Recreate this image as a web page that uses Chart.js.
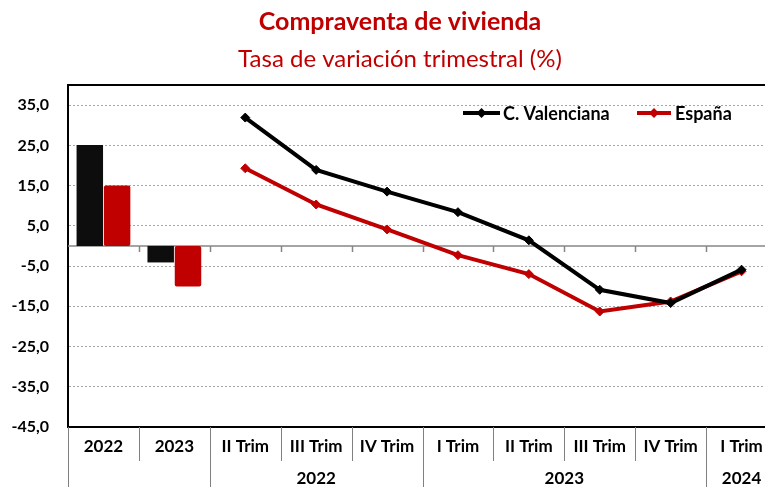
<!DOCTYPE html>
<html>
<head>
<meta charset="utf-8">
<script src="https://cdn.jsdelivr.net/npm/chart.js@4"></script>
<style>
  body { margin: 0; overflow: hidden; background: #fff; }
  #caja { width: 765px; height: 487px; overflow: hidden; }
</style>
</head>
<body>
<div id="caja"><canvas id="grafico" width="800" height="487"></canvas></div>
<script>
// categorias del eje x
const categorias = ['2022', '2023', 'II Trim', 'III Trim', 'IV Trim', 'I Trim', 'II Trim', 'III Trim', 'IV Trim', 'I Trim']
// segunda fila: [etiqueta, desde, hasta]
const grupos = [['2022', 2, 4], ['2023', 5, 8], ['2024', 9, 9]]

const cvAnual = [25.1, -4.1, null, null, null, null, null, null, null, null]
const espAnual = [15.0, -10.1, null, null, null, null, null, null, null, null]
const cvTrim = [null, null, 31.9, 18.9, 13.5, 8.4, 1.4, -10.9, -14.2, -5.9]
const espTrim = [null, null, 19.3, 10.3, 4.1, -2.3, -7.0, -16.3, -13.8, -6.3]

const ticksY = [-45, -35, -25, -15, -5, 5, 15, 25, 35, 40]

const negro = '#000000'
const rojo = '#C00000'
const fuente = 'Lato, "Open Sans", sans-serif'

const dibujo = {
  id: 'dibujo',
  beforeDatasetsDraw(chart) {
    const c = chart.ctx
    const area = chart.chartArea
    const x = chart.scales.x
    const y0 = chart.scales.y.getPixelForValue(0)
    const medio = (x.getPixelForValue(1) - x.getPixelForValue(0)) / 2
    c.save()
    c.strokeStyle = '#868686'
    c.lineWidth = 1.5
    c.beginPath()
    c.moveTo(area.left, y0)
    c.lineTo(area.right, y0)
    for (let i = 1; i < categorias.length; i++) {
      const px = Math.round(x.getPixelForValue(i) - medio) + 0.5
      c.moveTo(px, y0)
      c.lineTo(px, y0 + 6)
    }
    c.stroke()
    c.restore()
  },
  afterDraw(chart) {
    const c = chart.ctx
    const area = chart.chartArea
    const x = chart.scales.x
    const medio = (x.getPixelForValue(1) - x.getPixelForValue(0)) / 2
    c.save()
    // titulos
    c.textAlign = 'center'
    c.textBaseline = 'middle'
    c.fillStyle = rojo
    c.font = 'bold 25px ' + fuente
    c.fillText('Compraventa de vivienda', 400, 22)
    c.font = '24px ' + fuente
    c.fillText('Tasa de variación trimestral (%)', 400, 59)

    // borde superior
    c.strokeStyle = negro
    c.lineWidth = 2
    c.beginPath()
    c.moveTo(area.left - 1, area.top)
    c.lineTo(area.right, area.top)
    c.stroke()

    // etiquetas del eje x
    c.fillStyle = '#000'
    c.font = 'bold 17px ' + fuente
    categorias.forEach((t, i) => {
      c.fillText(t, x.getPixelForValue(i), area.bottom + 20)
    })
    grupos.forEach(g => {
      const cx = (x.getPixelForValue(g[1]) + x.getPixelForValue(g[2])) / 2
      c.fillText(g[0], cx, area.bottom + 52)
    })

    // separadores
    const cortes = [0, 2, 5, 9]
    c.strokeStyle = '#808080'
    c.lineWidth = 1
    c.beginPath()
    for (let i = 0; i < categorias.length; i++) {
      const px = Math.round(x.getPixelForValue(i) - medio) + 0.5
      c.moveTo(px, area.bottom)
      c.lineTo(px, cortes.includes(i) ? 487 : area.bottom + 34)
    }
    c.stroke()

    // leyenda
    const series = [[chart.data.datasets[2], 463, 500, 503], [chart.data.datasets[3], 637, 671, 675]]
    const yl = 113
    series.forEach(s => {
      const ds = s[0]
      c.strokeStyle = ds.borderColor
      c.lineWidth = 4
      c.beginPath()
      c.moveTo(s[1], yl)
      c.lineTo(s[2], yl)
      c.stroke()
      const mx = (s[1] + s[2]) / 2
      c.fillStyle = ds.borderColor
      c.beginPath()
      c.moveTo(mx, yl - 5)
      c.lineTo(mx + 5, yl)
      c.lineTo(mx, yl + 5)
      c.lineTo(mx - 5, yl)
      c.closePath()
      c.fill()
      c.fillStyle = '#000'
      c.textAlign = 'left'
      c.font = 'bold 18px ' + fuente
      c.fillText(ds.label, s[3], yl + 1)
    })
    c.restore()
  }
}

new Chart(document.getElementById('grafico'), {
  type: 'bar',
  data: {
    labels: categorias,
    datasets: [
      {
        label: 'C. Valenciana',
        data: cvAnual,
        backgroundColor: '#0D0D0D',
        categoryPercentage: 0.77,
        barPercentage: 0.97,
        order: 3
      },
      {
        label: 'España',
        data: espAnual,
        backgroundColor: rojo,
        borderRadius: 2,
        borderSkipped: false,
        categoryPercentage: 0.77,
        barPercentage: 0.97,
        order: 3
      },
      {
        type: 'line',
        label: 'C. Valenciana',
        data: cvTrim,
        borderColor: negro,
        backgroundColor: negro,
        borderWidth: 4,
        pointStyle: 'rectRot',
        pointRadius: 4.5,
        pointBorderWidth: 1,
        tension: 0,
        order: 1
      },
      {
        type: 'line',
        label: 'España',
        data: espTrim,
        borderColor: rojo,
        backgroundColor: rojo,
        borderWidth: 4,
        pointStyle: 'rectRot',
        pointRadius: 4.5,
        pointBorderWidth: 1,
        tension: 0,
        order: 2
      }
    ]
  },
  options: {
    responsive: false,
    animation: false,
    devicePixelRatio: 1,
    layout: { padding: { top: 85, bottom: 60, left: 0, right: 23 } },
    plugins: {
      legend: { display: false },
      title: { display: false },
      tooltip: { enabled: false }
    },
    scales: {
      x: {
        ticks: { display: false },
        grid: { display: false, drawTicks: false },
        border: { display: true, color: negro, width: 2 },
        afterFit(s) { s.height = 0 }
      },
      y: {
        min: -45,
        max: 40,
        afterBuildTicks(s) { s.ticks = ticksY.map(v => ({ value: v })) },
        afterFit(s) { s.width = 68 },
        ticks: {
          padding: 19,
          color: '#000',
          font: { family: fuente, size: 16, weight: 'bold' },
          callback: v => v === 40 ? '' : v.toFixed(1).replace('.', ',')
        },
        grid: {
          drawTicks: false,
          color: ctx => (ctx.tick.value === 40 || ctx.tick.value === -45) ? 'rgba(0,0,0,0)' : '#A6A6A6',
          lineWidth: 1
        },
        border: { display: true, color: negro, width: 2, dash: [2, 2] }
      }
    }
  },
  plugins: [dibujo]
})
</script>
</body>
</html>
